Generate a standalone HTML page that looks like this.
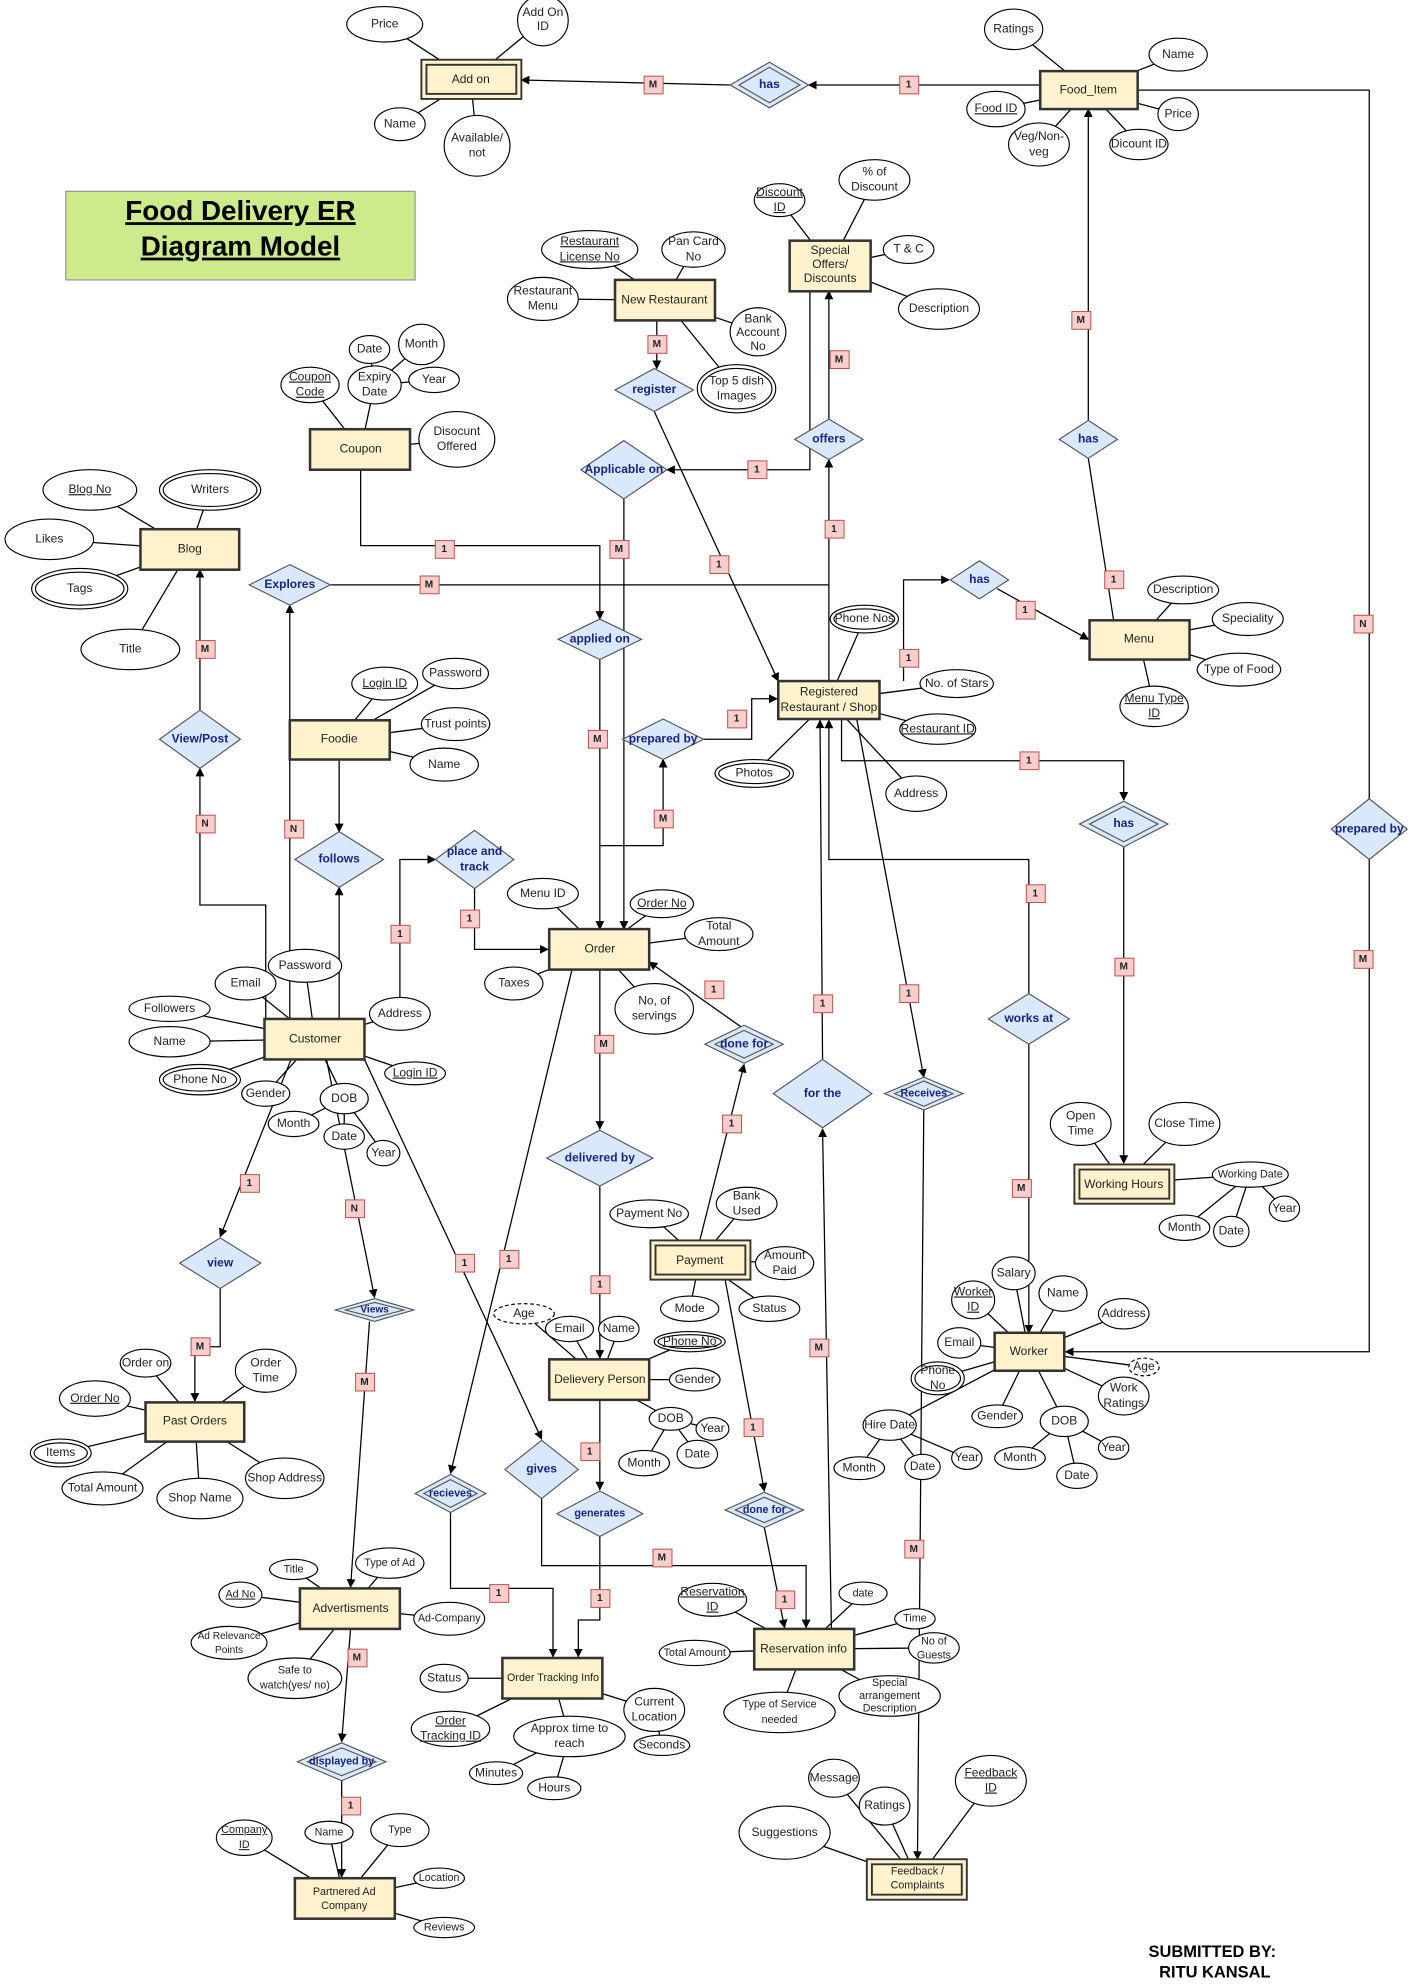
<!DOCTYPE html>
<html><head><meta charset="utf-8"><style>
html,body{margin:0;padding:0;background:#fff}
svg{display:block}
text{font-family:"Liberation Sans",sans-serif;font-size:9.5px;fill:#222;text-anchor:middle;dominant-baseline:middle}
.l{stroke:#000;stroke-width:1;fill:none}
.en{fill:#fff2cc;stroke:#333;stroke-width:2}
.ew{fill:#fff2cc;stroke:#333;stroke-width:1.5}
.a{fill:#fff;stroke:#000;stroke-width:0.9}
.ad{fill:#fff;stroke:#000;stroke-width:0.9;stroke-dasharray:3 2}
.r{fill:#dae8fc;stroke:#555;stroke-width:0.9}
.rt{fill:#1a237e;font-weight:bold;font-size:9.5px}
.c{fill:#f8cecc;stroke:#b85450;stroke-width:0.8}
.ct{font-weight:bold;font-size:8px;fill:#222}
.u{text-decoration:underline}
</style></head><body>
<svg width="1411" height="1986" viewBox="0 0 1115 1569" xmlns="http://www.w3.org/2000/svg">
<defs><marker id="ar" viewBox="0 0 10 10" refX="9" refY="5" markerWidth="7" markerHeight="7" orient="auto-start-reverse"><path d="M0,0 L10,5 L0,10 z" fill="#000"/></marker></defs>

<!-- Title -->
<rect x="52" y="151" width="276" height="70" fill="#cdeb8b" stroke="#999"/>
<text x="190" y="168" style="font-size:22px;font-weight:bold;fill:#000;text-decoration:underline">Food Delivery ER</text>
<text x="190" y="196" style="font-size:22px;font-weight:bold;fill:#000;text-decoration:underline">Diagram Model</text>

<!-- attribute lines (center to center) -->
<g class="l">
<path d="M304,19L372,63M429,16L372,63M316,98L372,63M377,115L372,63"/>
<path d="M801,23L860,71M931,43L860,71M787,86L860,71M821,114L860,71M931,90L860,71M900,114L860,71"/>
<path d="M616,158L656,210M691,142L656,210M718,197L656,210M742,244L656,210"/>
<path d="M466,197L525,237M548,197L525,237M429,236L525,237M599,262L525,237M582,307L525,237"/>
<path d="M245,304L285,355M296,304L285,355M292,276L296,304M333,272L296,304M343,300L296,304M361,347L285,355"/>
<path d="M71,387L150,434M166,387L150,434M39,426L150,434M63,465L150,434M103,513L150,434"/>
<path d="M304,540L268,584M360,532L268,584M360,572L268,584M351,604L268,584"/>
<path d="M194,777L249,821M241,763L249,821M316,801L249,821M134,797L249,821M134,823L249,821M158,853L249,821M328,848L249,821M210,864L249,821M272,868L249,821M232,888L272,868M272,898L272,868M303,911L272,868"/>
<path d="M429,706L474,750M523,714L474,750M568,738L474,750M406,777L474,750M517,797L474,750"/>
<path d="M683,489L655,553M756,540L655,553M741,576L655,553M596,611L655,553M724,627L655,553"/>
<path d="M935,466L900,505M986,489L900,505M979,529L900,505M912,558L900,505"/>
<path d="M854,888L888,935M936,888L888,935M988,928L888,935M936,970L988,928M973,973L988,928M1015,955L988,928"/>
<path d="M513,959L553,995M590,951L553,995M620,998L553,995M545,1034L553,995M608,1034L553,995"/>
<path d="M414,1038L474,1090M450,1050L474,1090M489,1050L474,1090M545,1060L474,1090M549,1090L474,1090M530,1121L474,1090M563,1129L530,1121M509,1156L530,1121M551,1149L530,1121"/>
<path d="M351,1326L437,1326M356,1366L437,1326M450,1372L437,1326M392,1401L450,1372M438,1413L450,1372M517,1351L437,1326M523,1379L517,1351"/>
<path d="M563,1264L635,1303M682,1259L635,1303M723,1279L635,1303M738,1302L635,1303M549,1306L635,1303M703,1340L635,1303M616,1353L635,1303"/>
<path d="M659,1405L725,1485M699,1427L725,1485M783,1407L725,1485M620,1448L725,1485"/>
<path d="M801,1006L813,1068M840,1022L813,1068M888,1038L813,1068M769,1027L813,1068M758,1061L813,1068M741,1089L813,1068M904,1080L813,1068M888,1103L813,1068M788,1119L813,1068M841,1123L813,1068M880,1144L841,1123M806,1152L841,1123M851,1166L841,1123M703,1126L813,1068M679,1160L703,1126M729,1159L703,1126M764,1152L703,1126"/>
<path d="M115,1077L154,1123M210,1083L154,1123M75,1105L154,1123M48,1148L154,1123M81,1176L154,1123M158,1184L154,1123M225,1168L154,1123"/>
<path d="M232,1240L277,1271M308,1235L277,1271M190,1260L277,1271M355,1279L277,1271M181,1298L277,1271M233,1326L277,1271"/>
<path d="M193,1452L272,1500M260,1448L272,1500M316,1446L272,1500M347,1484L272,1500M351,1523L272,1500"/>
</g>

<!-- relationship connectors -->
<g class="l">
<path d="M577,67L412,63" marker-end="url(#ar)"/>
<path d="M822,67L639,67" marker-end="url(#ar)"/>
<path d="M899,71L1082,71L1082,631"/>
<path d="M1082,679L1082,1068L842,1068" marker-end="url(#ar)"/>
<path d="M860,332L860,86" marker-end="url(#ar)"/>
<path d="M860,362L880,490"/>
<path d="M655,331L655,230" marker-end="url(#ar)"/>
<path d="M655,538L655,363" marker-end="url(#ar)"/>
<path d="M640,230L640,371L527,371" marker-end="url(#ar)"/>
<path d="M519,253L519,291" marker-end="url(#ar)"/>
<path d="M517,325L615,538" marker-end="url(#ar)"/>
<path d="M493,394L493,734" marker-end="url(#ar)"/>
<path d="M285,371L285,431L474,431L474,489" marker-end="url(#ar)"/>
<path d="M474,521L474,734" marker-end="url(#ar)"/>
<path d="M261,462L655,462"/>
<path d="M229,805L229,478" marker-end="url(#ar)"/>
<path d="M158,607L158,450" marker-end="url(#ar)"/>
<path d="M210,805L210,715L158,715L158,607" marker-end="url(#ar)"/>
<path d="M268,600L268,657" marker-end="url(#ar)"/>
<path d="M268,805L268,701" marker-end="url(#ar)"/>
<path d="M316,805L316,679L344,679" marker-end="url(#ar)"/>
<path d="M375,702L375,750L433,750" marker-end="url(#ar)"/>
<path d="M474,668L524,668L524,600" marker-end="url(#ar)"/>
<path d="M556,584L594,584L594,552L614,552" marker-end="url(#ar)"/>
<path d="M714,538L714,458L750,458" marker-end="url(#ar)"/>
<path d="M788,465L860,505" marker-end="url(#ar)"/>
<path d="M665,568L665,601L888,601L888,632" marker-end="url(#ar)"/>
<path d="M888,669L888,919" marker-end="url(#ar)"/>
<path d="M813,785L813,679L655,679L655,569" marker-end="url(#ar)"/>
<path d="M813,825L813,1053" marker-end="url(#ar)"/>
<path d="M650,837L648,569" marker-end="url(#ar)"/>
<path d="M657,1287L650,892" marker-end="url(#ar)"/>
<path d="M677,568L730,851" marker-end="url(#ar)"/>
<path d="M730,877L725,1469" marker-end="url(#ar)"/>
<path d="M588,813L513,760" marker-end="url(#ar)"/>
<path d="M553,980L588,841" marker-end="url(#ar)"/>
<path d="M474,766L474,892" marker-end="url(#ar)"/>
<path d="M474,937L474,1073" marker-end="url(#ar)"/>
<path d="M573,1011L604,1178" marker-end="url(#ar)"/>
<path d="M604,1207L620,1286" marker-end="url(#ar)"/>
<path d="M452,766L356,1164" marker-end="url(#ar)"/>
<path d="M288,837L428,1137" marker-end="url(#ar)"/>
<path d="M474,1106L474,1177" marker-end="url(#ar)"/>
<path d="M474,1214L474,1280L457,1280L457,1309" marker-end="url(#ar)"/>
<path d="M428,1184L428,1237L637,1237L637,1286" marker-end="url(#ar)"/>
<path d="M356,1195L356,1255L437,1255L437,1309" marker-end="url(#ar)"/>
<path d="M230,837L174,977" marker-end="url(#ar)"/>
<path d="M174,1018L174,1064L154,1064L154,1107" marker-end="url(#ar)"/>
<path d="M258,837L296,1025" marker-end="url(#ar)"/>
<path d="M292,1044L277,1254" marker-end="url(#ar)"/>
<path d="M277,1287L270,1376" marker-end="url(#ar)"/>
<path d="M270,1407L270,1483" marker-end="url(#ar)"/>
</g>

<!-- attributes -->
<g>
<ellipse class="a" cx="304" cy="19" rx="30" ry="14"/><text x="304" y="19">Price</text>
<ellipse class="a" cx="429" cy="16" rx="20" ry="20"/><text x="429" y="10">Add On</text><text x="429" y="21">ID</text>
<ellipse class="a" cx="316" cy="98" rx="20" ry="13"/><text x="316" y="98">Name</text>
<ellipse class="a" cx="377" cy="115" rx="26" ry="24"/><text x="377" y="109">Available/</text><text x="377" y="121">not</text>

<ellipse class="a" cx="801" cy="23" rx="23" ry="16"/><text x="801" y="23">Ratings</text>
<ellipse class="a" cx="931" cy="43" rx="23" ry="13"/><text x="931" y="43">Name</text>
<ellipse class="a" cx="787" cy="86" rx="23" ry="14"/><text x="787" y="86" class="u">Food ID</text>
<ellipse class="a" cx="821" cy="114" rx="24" ry="17"/><text x="821" y="108">Veg/Non-</text><text x="821" y="120">veg</text>
<ellipse class="a" cx="931" cy="90" rx="16" ry="13"/><text x="931" y="90">Price</text>
<ellipse class="a" cx="900" cy="114" rx="23" ry="12"/><text x="900" y="114">Dicount ID</text>

<ellipse class="a" cx="616" cy="158" rx="20" ry="13"/><text x="616" y="152" class="u">Discount</text><text x="616" y="164" class="u">ID</text>
<ellipse class="a" cx="691" cy="142" rx="28" ry="16"/><text x="691" y="136">% of</text><text x="691" y="148">Discount</text>
<ellipse class="a" cx="718" cy="197" rx="20" ry="11"/><text x="718" y="197">T &amp; C</text>
<ellipse class="a" cx="742" cy="244" rx="32" ry="16"/><text x="742" y="244">Description</text>

<ellipse class="a" cx="466" cy="197" rx="38" ry="15"/><text x="466" y="191" class="u">Restaurant</text><text x="466" y="203" class="u">License No</text>
<ellipse class="a" cx="548" cy="197" rx="25" ry="14"/><text x="548" y="191">Pan Card</text><text x="548" y="203">No</text>
<ellipse class="a" cx="429" cy="236" rx="28" ry="17"/><text x="429" y="230">Restaurant</text><text x="429" y="242">Menu</text>
<ellipse class="a" cx="599" cy="262" rx="22" ry="19"/><text x="599" y="252">Bank</text><text x="599" y="263">Account</text><text x="599" y="274">No</text>
<ellipse class="a" cx="582" cy="307" rx="31" ry="19"/><ellipse class="a" cx="582" cy="307" rx="28" ry="16"/><text x="582" y="301">Top 5 dish</text><text x="582" y="313">Images</text>

<ellipse class="a" cx="245" cy="304" rx="23" ry="14"/><text x="245" y="298" class="u">Coupon</text><text x="245" y="310" class="u">Code</text>
<ellipse class="a" cx="296" cy="304" rx="21" ry="15"/><text x="296" y="298">Expiry</text><text x="296" y="310">Date</text>
<ellipse class="a" cx="292" cy="276" rx="16" ry="11"/><text x="292" y="276">Date</text>
<ellipse class="a" cx="333" cy="272" rx="18" ry="16"/><text x="333" y="272">Month</text>
<ellipse class="a" cx="343" cy="300" rx="20" ry="10"/><text x="343" y="300">Year</text>
<ellipse class="a" cx="361" cy="347" rx="30" ry="22"/><text x="361" y="341">Disocunt</text><text x="361" y="353">Offered</text>

<ellipse class="a" cx="71" cy="387" rx="37" ry="16"/><text x="71" y="387" class="u">Blog No</text>
<ellipse class="a" cx="166" cy="387" rx="40" ry="16"/><ellipse class="a" cx="166" cy="387" rx="37" ry="13"/><text x="166" y="387">Writers</text>
<ellipse class="a" cx="39" cy="426" rx="35" ry="16"/><text x="39" y="426">Likes</text>
<ellipse class="a" cx="63" cy="465" rx="38" ry="16"/><ellipse class="a" cx="63" cy="465" rx="35" ry="13"/><text x="63" y="465">Tags</text>
<ellipse class="a" cx="103" cy="513" rx="39" ry="16"/><text x="103" y="513">Title</text>

<ellipse class="a" cx="304" cy="540" rx="26" ry="13"/><text x="304" y="540" class="u">Login ID</text>
<ellipse class="a" cx="360" cy="532" rx="26" ry="12"/><text x="360" y="532">Password</text>
<ellipse class="a" cx="360" cy="572" rx="27" ry="13"/><text x="360" y="572">Trust points</text>
<ellipse class="a" cx="351" cy="604" rx="27" ry="13"/><text x="351" y="604">Name</text>

<ellipse class="a" cx="194" cy="777" rx="24" ry="13"/><text x="194" y="777">Email</text>
<ellipse class="a" cx="241" cy="763" rx="29" ry="13"/><text x="241" y="763">Password</text>
<ellipse class="a" cx="316" cy="801" rx="24" ry="13"/><text x="316" y="801">Address</text>
<ellipse class="a" cx="134" cy="797" rx="32" ry="10"/><text x="134" y="797">Followers</text>
<ellipse class="a" cx="134" cy="823" rx="32" ry="12"/><text x="134" y="823">Name</text>
<ellipse class="a" cx="158" cy="853" rx="32" ry="12"/><ellipse class="a" cx="158" cy="853" rx="29" ry="9"/><text x="158" y="853">Phone No</text>
<ellipse class="a" cx="328" cy="848" rx="24" ry="9"/><text x="328" y="848" class="u">Login ID</text>
<ellipse class="a" cx="210" cy="864" rx="19" ry="10"/><text x="210" y="864">Gender</text>
<ellipse class="a" cx="272" cy="868" rx="19" ry="12"/><text x="272" y="868">DOB</text>
<ellipse class="a" cx="232" cy="888" rx="20" ry="10"/><text x="232" y="888">Month</text>
<ellipse class="a" cx="272" cy="898" rx="16" ry="10"/><text x="272" y="898">Date</text>
<ellipse class="a" cx="303" cy="911" rx="13" ry="10"/><text x="303" y="911">Year</text>

<ellipse class="a" cx="429" cy="706" rx="28" ry="12"/><text x="429" y="706">Menu ID</text>
<ellipse class="a" cx="523" cy="714" rx="25" ry="11"/><text x="523" y="714" class="u">Order No</text>
<ellipse class="a" cx="568" cy="738" rx="27" ry="13"/><text x="568" y="732">Total</text><text x="568" y="744">Amount</text>
<ellipse class="a" cx="406" cy="777" rx="23" ry="13"/><text x="406" y="777">Taxes</text>
<ellipse class="a" cx="517" cy="797" rx="31" ry="20"/><text x="517" y="791">No, of</text><text x="517" y="803">servings</text>

<ellipse class="a" cx="683" cy="489" rx="27" ry="11"/><ellipse class="a" cx="683" cy="489" rx="24" ry="8"/><text x="683" y="489">Phone Nos</text>
<ellipse class="a" cx="756" cy="540" rx="29" ry="11"/><text x="756" y="540">No. of Stars</text>
<ellipse class="a" cx="741" cy="576" rx="30" ry="12"/><text x="741" y="576" class="u">Restaurant ID</text>
<ellipse class="a" cx="596" cy="611" rx="31" ry="11"/><ellipse class="a" cx="596" cy="611" rx="28" ry="8"/><text x="596" y="611">Photos</text>
<ellipse class="a" cx="724" cy="627" rx="24" ry="14"/><text x="724" y="627">Address</text>

<ellipse class="a" cx="935" cy="466" rx="28" ry="11"/><text x="935" y="466">Description</text>
<ellipse class="a" cx="986" cy="489" rx="28" ry="13"/><text x="986" y="489">Speciality</text>
<ellipse class="a" cx="979" cy="529" rx="33" ry="13"/><text x="979" y="529">Type of Food</text>
<ellipse class="a" cx="912" cy="558" rx="27" ry="16"/><text x="912" y="552" class="u">Menu Type</text><text x="912" y="564" class="u">ID</text>

<ellipse class="a" cx="854" cy="888" rx="24" ry="17"/><text x="854" y="882">Open</text><text x="854" y="894">Time</text>
<ellipse class="a" cx="936" cy="888" rx="28" ry="17"/><text x="936" y="888">Close Time</text>
<ellipse class="a" cx="988" cy="928" rx="30" ry="10"/><text x="988" y="928" style="font-size:8.5px">Working Date</text>
<ellipse class="a" cx="936" cy="970" rx="20" ry="10"/><text x="936" y="970">Month</text>
<ellipse class="a" cx="973" cy="973" rx="14" ry="12"/><text x="973" y="973">Date</text>
<ellipse class="a" cx="1015" cy="955" rx="12" ry="10"/><text x="1015" y="955">Year</text>

<ellipse class="a" cx="513" cy="959" rx="31" ry="11"/><text x="513" y="959">Payment No</text>
<ellipse class="a" cx="590" cy="951" rx="24" ry="13"/><text x="590" y="945">Bank</text><text x="590" y="957">Used</text>
<ellipse class="a" cx="620" cy="998" rx="23" ry="13"/><text x="620" y="992">Amount</text><text x="620" y="1004">Paid</text>
<ellipse class="a" cx="545" cy="1034" rx="23" ry="10"/><text x="545" y="1034">Mode</text>
<ellipse class="a" cx="608" cy="1034" rx="24" ry="10"/><text x="608" y="1034">Status</text>

<ellipse class="ad" cx="414" cy="1038" rx="24" ry="8"/><text x="414" y="1038">Age</text>
<ellipse class="a" cx="450" cy="1050" rx="19" ry="10"/><text x="450" y="1050">Email</text>
<ellipse class="a" cx="489" cy="1050" rx="16" ry="10"/><text x="489" y="1050">Name</text>
<ellipse class="a" cx="545" cy="1060" rx="28" ry="8"/><ellipse class="a" cx="545" cy="1060" rx="25" ry="5.5"/><text x="545" y="1060" class="u">Phone No</text>
<ellipse class="a" cx="549" cy="1090" rx="20" ry="9"/><text x="549" y="1090">Gender</text>
<ellipse class="a" cx="530" cy="1121" rx="17" ry="9"/><text x="530" y="1121">DOB</text>
<ellipse class="a" cx="563" cy="1129" rx="13" ry="9"/><text x="563" y="1129">Year</text>
<ellipse class="a" cx="509" cy="1156" rx="20" ry="10"/><text x="509" y="1156">Month</text>
<ellipse class="a" cx="551" cy="1149" rx="16" ry="11"/><text x="551" y="1149">Date</text>

<ellipse class="a" cx="351" cy="1326" rx="19" ry="11"/><text x="351" y="1326">Status</text>
<ellipse class="a" cx="356" cy="1366" rx="31" ry="14"/><text x="356" y="1360" class="u">Order</text><text x="356" y="1372" class="u">Tracking ID</text>
<ellipse class="a" cx="450" cy="1372" rx="44" ry="16"/><text x="450" y="1366">Approx time to</text><text x="450" y="1378">reach</text>
<ellipse class="a" cx="392" cy="1401" rx="21" ry="9"/><text x="392" y="1401">Minutes</text>
<ellipse class="a" cx="438" cy="1413" rx="21" ry="9"/><text x="438" y="1413">Hours</text>
<ellipse class="a" cx="517" cy="1351" rx="24" ry="17"/><text x="517" y="1345">Current</text><text x="517" y="1357">Location</text>
<ellipse class="a" cx="523" cy="1379" rx="22" ry="8"/><text x="523" y="1379">Seconds</text>

<ellipse class="a" cx="563" cy="1264" rx="27" ry="13"/><text x="563" y="1258" class="u">Reservation</text><text x="563" y="1270" class="u">ID</text>
<ellipse class="a" cx="682" cy="1259" rx="19" ry="9"/><text x="682" y="1259" style="font-size:8.5px">date</text>
<ellipse class="a" cx="723" cy="1279" rx="16" ry="8"/><text x="723" y="1279" style="font-size:8.5px">Time</text>
<ellipse class="a" cx="738" cy="1302" rx="20" ry="12"/><text x="738" y="1297" style="font-size:8.5px">No of</text><text x="738" y="1308" style="font-size:8.5px">Guests</text>
<ellipse class="a" cx="549" cy="1306" rx="28" ry="10"/><text x="549" y="1306" style="font-size:8.5px">Total Amount</text>
<ellipse class="a" cx="703" cy="1340" rx="40" ry="16"/><text x="703" y="1330" style="font-size:8.5px">Special</text><text x="703" y="1340" style="font-size:8.5px">arrangement</text><text x="703" y="1350" style="font-size:8.5px">Description</text>
<ellipse class="a" cx="616" cy="1353" rx="44" ry="16"/><text x="616" y="1347" style="font-size:8.5px">Type of Service</text><text x="616" y="1359" style="font-size:8.5px">needed</text>

<ellipse class="a" cx="659" cy="1405" rx="20" ry="15"/><text x="659" y="1405">Message</text>
<ellipse class="a" cx="699" cy="1427" rx="20" ry="15"/><text x="699" y="1427">Ratings</text>
<ellipse class="a" cx="783" cy="1407" rx="28" ry="20"/><text x="783" y="1401" class="u">Feedback</text><text x="783" y="1413" class="u">ID</text>
<ellipse class="a" cx="620" cy="1448" rx="36" ry="21"/><text x="620" y="1448">Suggestions</text>

<ellipse class="a" cx="801" cy="1006" rx="17" ry="13"/><text x="801" y="1006">Salary</text>
<ellipse class="a" cx="840" cy="1022" rx="19" ry="14"/><text x="840" y="1022">Name</text>
<ellipse class="a" cx="888" cy="1038" rx="20" ry="12"/><text x="888" y="1038">Address</text>
<ellipse class="a" cx="769" cy="1027" rx="17" ry="15"/><text x="769" y="1021" class="u">Worker</text><text x="769" y="1033" class="u">ID</text>
<ellipse class="a" cx="758" cy="1061" rx="17" ry="12"/><text x="758" y="1061">Email</text>
<ellipse class="a" cx="741" cy="1089" rx="21" ry="13"/><ellipse class="a" cx="741" cy="1089" rx="18" ry="10"/><text x="741" y="1083">Phone</text><text x="741" y="1095">No</text>
<ellipse class="ad" cx="904" cy="1080" rx="12" ry="7"/><text x="904" y="1080">Age</text>
<ellipse class="a" cx="888" cy="1103" rx="20" ry="15"/><text x="888" y="1097">Work</text><text x="888" y="1109">Ratings</text>
<ellipse class="a" cx="788" cy="1119" rx="20" ry="9"/><text x="788" y="1119">Gender</text>
<ellipse class="a" cx="841" cy="1123" rx="19" ry="12"/><text x="841" y="1123">DOB</text>
<ellipse class="a" cx="880" cy="1144" rx="12" ry="9"/><text x="880" y="1144">Year</text>
<ellipse class="a" cx="806" cy="1152" rx="20" ry="9"/><text x="806" y="1152">Month</text>
<ellipse class="a" cx="851" cy="1166" rx="16" ry="10"/><text x="851" y="1166">Date</text>
<ellipse class="a" cx="703" cy="1126" rx="21" ry="12"/><text x="703" y="1126">Hire Date</text>
<ellipse class="a" cx="679" cy="1160" rx="20" ry="9"/><text x="679" y="1160">Month</text>
<ellipse class="a" cx="729" cy="1159" rx="14" ry="10"/><text x="729" y="1159">Date</text>
<ellipse class="a" cx="764" cy="1152" rx="12" ry="9"/><text x="764" y="1152">Year</text>

<ellipse class="a" cx="115" cy="1077" rx="20" ry="11"/><text x="115" y="1077">Order on</text>
<ellipse class="a" cx="210" cy="1083" rx="24" ry="17"/><text x="210" y="1077">Order</text><text x="210" y="1089">Time</text>
<ellipse class="a" cx="75" cy="1105" rx="28" ry="14"/><text x="75" y="1105" class="u">Order No</text>
<ellipse class="a" cx="48" cy="1148" rx="24" ry="11"/><ellipse class="a" cx="48" cy="1148" rx="21" ry="8"/><text x="48" y="1148">Items</text>
<ellipse class="a" cx="81" cy="1176" rx="32" ry="13"/><text x="81" y="1176">Total Amount</text>
<ellipse class="a" cx="158" cy="1184" rx="34" ry="16"/><text x="158" y="1184">Shop Name</text>
<ellipse class="a" cx="225" cy="1168" rx="31" ry="16"/><text x="225" y="1168">Shop Address</text>

<ellipse class="a" cx="232" cy="1240" rx="19" ry="8"/><text x="232" y="1240" style="font-size:8.5px">Title</text>
<ellipse class="a" cx="308" cy="1235" rx="27" ry="12"/><text x="308" y="1235" style="font-size:8.5px">Type of Ad</text>
<ellipse class="a" cx="190" cy="1260" rx="17" ry="10"/><text x="190" y="1260" class="u" style="font-size:8.5px">Ad No</text>
<ellipse class="a" cx="355" cy="1279" rx="28" ry="13"/><text x="355" y="1279" style="font-size:8.5px">Ad-Company</text>
<ellipse class="a" cx="181" cy="1298" rx="30" ry="13"/><text x="181" y="1293" style="font-size:8px">Ad Relevance</text><text x="181" y="1304" style="font-size:8px">Points</text>
<ellipse class="a" cx="233" cy="1326" rx="37" ry="16"/><text x="233" y="1320" style="font-size:8.5px">Safe  to</text><text x="233" y="1332" style="font-size:8.5px">watch(yes/ no)</text>

<ellipse class="a" cx="193" cy="1452" rx="22" ry="14"/><text x="193" y="1446" class="u" style="font-size:8.5px">Company</text><text x="193" y="1458" class="u" style="font-size:8.5px">ID</text>
<ellipse class="a" cx="260" cy="1448" rx="19" ry="9"/><text x="260" y="1448" style="font-size:8.5px">Name</text>
<ellipse class="a" cx="316" cy="1446" rx="23" ry="13"/><text x="316" y="1446" style="font-size:8.5px">Type</text>
<ellipse class="a" cx="347" cy="1484" rx="20" ry="8"/><text x="347" y="1484" style="font-size:8.5px">Location</text>
<ellipse class="a" cx="351" cy="1523" rx="24" ry="8"/><text x="351" y="1523" style="font-size:8.5px">Reviews</text>
</g>

<!-- entities -->
<g>
<rect class="ew" x="333" y="47" width="79" height="31"/><rect class="ew" x="337" y="51" width="71" height="23"/><text x="372" y="63">Add on</text>
<rect class="en" x="822" y="56" width="77" height="30"/><text x="860" y="71">Food_Item</text>
<rect class="en" x="624" y="190" width="64" height="40"/><text x="656" y="198">Special</text><text x="656" y="209">Offers/</text><text x="656" y="220">Discounts</text>
<rect class="en" x="486" y="221" width="79" height="32"/><text x="525" y="237">New Restaurant</text>
<rect class="en" x="245" y="339" width="79" height="32"/><text x="285" y="355">Coupon</text>
<rect class="en" x="111" y="418" width="78" height="32"/><text x="150" y="434">Blog</text>
<rect class="en" x="229" y="569" width="79" height="31"/><text x="268" y="584">Foodie</text>
<rect class="en" x="209" y="805" width="79" height="32"/><text x="249" y="821">Customer</text>
<rect class="en" x="434" y="734" width="79" height="32"/><text x="474" y="750">Order</text>
<rect class="en" x="615" y="538" width="80" height="30"/><text x="655" y="547">Registered</text><text x="655" y="559">Restaurant / Shop</text>
<rect class="en" x="861" y="490" width="79" height="31"/><text x="900" y="505">Menu</text>
<rect class="ew" x="849" y="920" width="79" height="31"/><rect class="ew" x="853" y="924" width="71" height="23"/><text x="888" y="936">Working Hours</text>
<rect class="ew" x="514" y="980" width="79" height="31"/><rect class="ew" x="518" y="984" width="71" height="23"/><text x="553" y="996">Payment</text>
<rect class="en" x="434" y="1074" width="79" height="32"/><text x="474" y="1090">Delievery Person</text>
<rect class="en" x="397" y="1310" width="79" height="32"/><text x="437" y="1326" style="font-size:8.5px">Order Tracking Info</text>
<rect class="en" x="596" y="1287" width="79" height="32"/><text x="635" y="1303">Reservation info</text>
<rect class="ew" x="685" y="1469" width="79" height="32"/><rect class="ew" x="689" y="1473" width="71" height="24"/><text x="725" y="1479" style="font-size:8.5px">Feedback /</text><text x="725" y="1490" style="font-size:8.5px">Complaints</text>
<rect class="en" x="786" y="1053" width="55" height="30"/><text x="813" y="1068">Worker</text>
<rect class="en" x="115" y="1108" width="78" height="31"/><text x="154" y="1123">Past Orders</text>
<rect class="en" x="237" y="1255" width="79" height="32"/><text x="277" y="1271">Advertisments</text>
<rect class="en" x="233" y="1484" width="79" height="32"/><text x="272" y="1495" style="font-size:8.5px">Partnered Ad</text><text x="272" y="1506" style="font-size:8.5px">Company</text>
</g>

<!-- relationships -->
<g>
<polygon class="r" points="608,49 639,67 608,85 577,67"/><polygon class="r" points="608,53 632,67 608,81 584,67"/><text class="rt" x="608" y="67">has</text>
<polygon class="r" points="860,332 883,347 860,362 837,347"/><text class="rt" x="860" y="347">has</text>
<polygon class="r" points="655,331 682,347 655,363 628,347"/><text class="rt" x="655" y="347">offers</text>
<polygon class="r" points="517,291 548,308 517,325 486,308"/><text class="rt" x="517" y="308">register</text>
<polygon class="r" points="493,348 527,371 493,394 459,371"/><text class="rt" x="493" y="371">Applicable on</text>
<polygon class="r" points="474,489 507,505 474,521 441,505"/><text class="rt" x="474" y="505">applied on</text>
<polygon class="r" points="229,446 261,462 229,478 197,462"/><text class="rt" x="229" y="462">Explores</text>
<polygon class="r" points="158,561 190,584 158,607 126,584"/><text class="rt" x="158" y="584">View/Post</text>
<polygon class="r" points="268,657 303,679 268,701 233,679"/><text class="rt" x="268" y="679">follows</text>
<polygon class="r" points="375,656 406,679 375,702 344,679"/><text class="rt" x="375" y="673">place and</text><text class="rt" x="375" y="685">track</text>
<polygon class="r" points="524,568 556,584 524,600 492,584"/><text class="rt" x="524" y="584">prepared by</text>
<polygon class="r" points="774,443 797,458 774,473 751,458"/><text class="rt" x="774" y="458">has</text>
<polygon class="r" points="888,633 923,651 888,669 853,651"/><polygon class="r" points="888,637 915,651 888,665 861,651"/><text class="rt" x="888" y="651">has</text>
<polygon class="r" points="1082,631 1112,655 1082,679 1052,655"/><text class="rt" x="1082" y="655">prepared by</text>
<polygon class="r" points="813,785 845,805 813,825 781,805"/><text class="rt" x="813" y="805">works at</text>
<polygon class="r" points="650,837 689,864 650,891 611,864"/><text class="rt" x="650" y="864">for the</text>
<polygon class="r" points="730,851 761,864 730,877 699,864"/><polygon class="r" points="730,854 753,864 730,874 707,864"/><text class="rt" x="730" y="864" style="font-size:8.5px">Receives</text>
<polygon class="r" points="588,810 619,825 588,840 557,825"/><polygon class="r" points="588,814 611,825 588,836 565,825"/><text class="rt" x="588" y="825">done for</text>
<polygon class="r" points="474,893 516,915 474,937 432,915"/><text class="rt" x="474" y="915">delivered by</text>
<polygon class="r" points="604,1179 635,1193 604,1207 573,1193"/><polygon class="r" points="604,1183 627,1193 604,1203 581,1193"/><text class="rt" x="604" y="1193" style="font-size:8.5px">done for</text>
<polygon class="r" points="474,1178 508,1196 474,1214 440,1196"/><text class="rt" x="474" y="1196" style="font-size:8.5px">generates</text>
<polygon class="r" points="428,1138 457,1161 428,1184 399,1161"/><text class="rt" x="428" y="1161">gives</text>
<polygon class="r" points="356,1165 384,1180 356,1195 328,1180"/><polygon class="r" points="356,1169 377,1180 356,1191 335,1180"/><text class="rt" x="356" y="1180" style="font-size:8.5px">recieves</text>
<polygon class="r" points="174,978 206,998 174,1018 142,998"/><text class="rt" x="174" y="998">view</text>
<polygon class="r" points="296,1026 327,1035 296,1044 265,1035"/><polygon class="r" points="296,1029 319,1035 296,1041 273,1035"/><text class="rt" x="296" y="1035" style="font-size:8px">Views</text>
<polygon class="r" points="270,1377 305,1392 270,1407 235,1392"/><polygon class="r" points="270,1381 297,1392 270,1403 243,1392"/><text class="rt" x="270" y="1392" style="font-size:8.5px">displayed by</text>
</g>

<!-- cardinality labels -->
<g>
<rect class="c" x="509" y="60" width="15" height="14"/><text class="ct" x="516" y="67">M</text>
<rect class="c" x="711" y="60" width="15" height="14"/><text class="ct" x="718" y="67">1</text>
<rect class="c" x="1070" y="486" width="15" height="14"/><text class="ct" x="1077" y="493">N</text>
<rect class="c" x="1070" y="751" width="15" height="14"/><text class="ct" x="1077" y="758">M</text>
<rect class="c" x="847" y="246" width="15" height="14"/><text class="ct" x="854" y="253">M</text>
<rect class="c" x="873" y="451" width="15" height="14"/><text class="ct" x="880" y="458">1</text>
<rect class="c" x="656" y="277" width="15" height="14"/><text class="ct" x="663" y="284">M</text>
<rect class="c" x="652" y="411" width="15" height="14"/><text class="ct" x="659" y="418">1</text>
<rect class="c" x="591" y="364" width="15" height="14"/><text class="ct" x="598" y="371">1</text>
<rect class="c" x="512" y="265" width="15" height="14"/><text class="ct" x="519" y="272">M</text>
<rect class="c" x="561" y="439" width="15" height="14"/><text class="ct" x="568" y="446">1</text>
<rect class="c" x="482" y="427" width="15" height="14"/><text class="ct" x="489" y="434">M</text>
<rect class="c" x="344" y="427" width="15" height="14"/><text class="ct" x="351" y="434">1</text>
<rect class="c" x="465" y="577" width="15" height="14"/><text class="ct" x="472" y="584">M</text>
<rect class="c" x="332" y="455" width="15" height="14"/><text class="ct" x="339" y="462">M</text>
<rect class="c" x="155" y="506" width="15" height="14"/><text class="ct" x="162" y="513">M</text>
<rect class="c" x="225" y="648" width="15" height="14"/><text class="ct" x="232" y="655">N</text>
<rect class="c" x="155" y="644" width="15" height="14"/><text class="ct" x="162" y="651">N</text>
<rect class="c" x="309" y="731" width="15" height="14"/><text class="ct" x="316" y="738">1</text>
<rect class="c" x="364" y="719" width="15" height="14"/><text class="ct" x="371" y="726">1</text>
<rect class="c" x="517" y="640" width="15" height="14"/><text class="ct" x="524" y="647">M</text>
<rect class="c" x="575" y="561" width="15" height="14"/><text class="ct" x="582" y="568">1</text>
<rect class="c" x="711" y="513" width="15" height="14"/><text class="ct" x="718" y="520">1</text>
<rect class="c" x="803" y="475" width="15" height="14"/><text class="ct" x="810" y="482">1</text>
<rect class="c" x="806" y="594" width="15" height="14"/><text class="ct" x="813" y="601">1</text>
<rect class="c" x="881" y="757" width="15" height="14"/><text class="ct" x="888" y="764">M</text>
<rect class="c" x="811" y="699" width="15" height="14"/><text class="ct" x="818" y="706">1</text>
<rect class="c" x="800" y="932" width="15" height="14"/><text class="ct" x="807" y="939">M</text>
<rect class="c" x="643" y="786" width="15" height="14"/><text class="ct" x="650" y="793">1</text>
<rect class="c" x="640" y="1058" width="15" height="14"/><text class="ct" x="647" y="1065">M</text>
<rect class="c" x="711" y="778" width="15" height="14"/><text class="ct" x="718" y="785">1</text>
<rect class="c" x="715" y="1217" width="15" height="14"/><text class="ct" x="722" y="1224">M</text>
<rect class="c" x="557" y="775" width="15" height="14"/><text class="ct" x="564" y="782">1</text>
<rect class="c" x="571" y="881" width="15" height="14"/><text class="ct" x="578" y="888">1</text>
<rect class="c" x="470" y="818" width="15" height="14"/><text class="ct" x="477" y="825">M</text>
<rect class="c" x="467" y="1008" width="15" height="14"/><text class="ct" x="474" y="1015">1</text>
<rect class="c" x="588" y="1121" width="15" height="14"/><text class="ct" x="595" y="1128">1</text>
<rect class="c" x="613" y="1257" width="15" height="14"/><text class="ct" x="620" y="1264">1</text>
<rect class="c" x="395" y="988" width="15" height="14"/><text class="ct" x="402" y="995">1</text>
<rect class="c" x="360" y="991" width="15" height="14"/><text class="ct" x="367" y="998">1</text>
<rect class="c" x="459" y="1140" width="15" height="14"/><text class="ct" x="466" y="1147">1</text>
<rect class="c" x="467" y="1256" width="15" height="14"/><text class="ct" x="474" y="1263">1</text>
<rect class="c" x="516" y="1224" width="15" height="14"/><text class="ct" x="523" y="1231">M</text>
<rect class="c" x="387" y="1252" width="15" height="14"/><text class="ct" x="394" y="1259">1</text>
<rect class="c" x="190" y="928" width="15" height="14"/><text class="ct" x="197" y="935">1</text>
<rect class="c" x="151" y="1057" width="15" height="14"/><text class="ct" x="158" y="1064">M</text>
<rect class="c" x="273" y="948" width="15" height="14"/><text class="ct" x="280" y="955">N</text>
<rect class="c" x="281" y="1085" width="15" height="14"/><text class="ct" x="288" y="1092">M</text>
<rect class="c" x="275" y="1303" width="15" height="14"/><text class="ct" x="282" y="1310">M</text>
<rect class="c" x="270" y="1420" width="15" height="14"/><text class="ct" x="277" y="1427">1</text>
</g>

<text x="958" y="1543" style="font-size:13px;font-weight:bold;fill:#000">SUBMITTED BY:</text>
<text x="960" y="1559" style="font-size:13px;font-weight:bold;fill:#000">RITU KANSAL</text>
</svg>
</body></html>
